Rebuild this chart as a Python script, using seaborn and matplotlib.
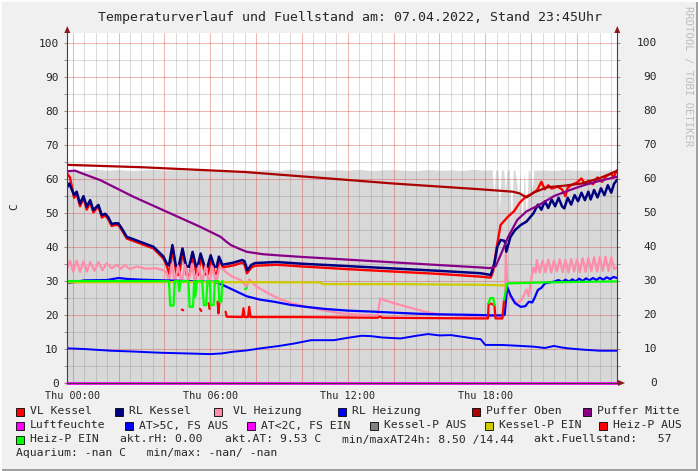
import numpy as np
import pandas as pd
import matplotlib
matplotlib.use("Agg")
import matplotlib.pyplot as plt
import matplotlib.transforms as mtransforms
from matplotlib.patches import Rectangle, Polygon
import seaborn as sns

# ---------------- data (hours of Thu 07.04.2022, values in C) ----------------
title = "Temperaturverlauf und Fuellstand am: 07.04.2022, Stand 23:45Uhr"
y_label = "C"
xtick_pos = [0, 6, 12, 18]
xtick_labels = ["Thu 00:00", "Thu 06:00", "Thu 12:00", "Thu 18:00"]
ytick_vals = [0, 10, 20, 30, 40, 50, 60, 70, 80, 90, 100]

rlk_t = [-0.25, -0.15, 0.06, 0.17, 0.32, 0.47, 0.61, 0.76, 0.90, 1.12, 1.27, 1.42, 1.55, 1.70, 1.85, 1.99,
         2.14, 2.36, 2.65, 3.0, 3.52, 3.96, 4.1, 4.2, 4.35, 4.5, 4.62, 4.79, 4.95, 5.08, 5.23, 5.38, 5.45,
         5.58, 5.75, 5.88, 6.02, 6.18, 6.28, 6.38, 6.53, 7.0, 7.4, 7.5, 7.62, 7.8, 7.96, 8.9, 10.0, 12.0,
         14.0, 16.0, 17.8, 18.24, 18.4, 18.53, 18.67, 18.85, 18.92, 19.1, 19.3, 19.55, 19.8, 20.1, 20.3,
         20.45, 20.6, 20.75, 20.9, 21.05, 21.2, 21.35, 21.45, 21.6, 21.75, 21.9, 22.05, 22.2, 22.35, 22.5,
         22.6, 22.75, 22.9, 23.05, 23.2, 23.35, 23.5, 23.62, 23.75]
rlk_v = [57.5, 58.7, 55.3, 56.3, 52.8, 55.0, 51.9, 53.8, 50.9, 52.4, 49.4, 49.8, 48.8, 46.8, 47.0, 47.0,
         45.5, 43.0, 42.3, 41.4, 40.1, 37.2, 35.2, 34.6, 40.6, 34.5, 34.3, 39.6, 34.4, 34.2, 38.6, 34.3, 34.2,
         38.1, 34.3, 34.2, 37.6, 34.2, 34.2, 37.2, 34.8, 35.4, 36.2, 35.8, 33.2, 34.8, 35.3, 35.6, 35.1, 34.4,
         33.7, 33.0, 32.3, 31.8, 35.2, 40.1, 42.1, 41.8, 38.6, 43.0, 45.0, 46.5, 47.5, 49.9, 52.5,
         51.0, 53.5, 51.5, 54.0, 52.0, 54.5, 52.0, 51.4, 54.5, 52.5, 55.3, 53.5, 56.0, 53.8, 56.3,
         54.0, 56.8, 54.6, 57.3, 55.3, 58.2, 56.0, 58.6, 59.8]

vlk_t = [-0.25, -0.12, 0.06, 0.17, 0.32, 0.47, 0.61, 0.76, 0.90, 1.12, 1.27, 1.42, 1.55, 1.70, 1.85, 1.99,
         2.14, 2.36, 2.65, 3.0, 3.52, 3.96, 4.1, 4.22, 4.37, 4.52, 4.64, 4.81, 4.97, 5.1, 5.25, 5.4, 5.47,
         5.6, 5.77, 5.9, 6.04, 6.2, 6.3, 6.4, 6.55, 7.0, 7.4, 7.5, 7.6, 7.8, 7.96, 8.9, 10.0, 12.0, 14.0,
         16.0, 17.8, 18.24, 18.35, 18.5, 18.67, 18.8, 19.0, 19.25, 19.5, 19.76, 20.0, 20.27, 20.45, 20.6,
         20.75, 20.9, 21.15, 21.35, 21.5, 21.6, 21.8, 22.0, 22.2, 22.35, 22.5, 22.7, 22.9, 23.1, 23.3,
         23.5, 23.6, 23.75]
vlk_v = [61.7, 60.5, 54.5, 55.8, 52.0, 54.5, 51.0, 53.2, 50.2, 52.0, 48.7, 49.3, 48.2, 46.2, 46.5, 46.5,
         45.0, 42.5, 41.8, 40.9, 39.6, 36.6, 34.5, 32.0, 39.8, 32.0, 31.8, 38.8, 31.8, 31.8, 37.8, 32.0, 31.8,
         37.4, 32.0, 32.0, 36.8, 32.2, 32.2, 36.5, 34.0, 34.6, 35.4, 34.8, 32.3, 34.0, 34.5, 34.8, 34.3, 33.5,
         32.8, 32.1, 31.3, 31.0, 33.0, 40.0, 46.5, 47.5, 49.0, 50.5, 53.0, 54.8, 55.5, 56.8, 59.2, 57.0,
         58.2, 57.2, 57.8, 57.0, 55.0, 57.5, 58.4, 59.0, 60.2, 58.5, 59.5, 58.5, 60.5, 59.2, 61.0,
         61.6, 60.5, 62.6]

po_t = [-0.25, 3.0, 7.5, 10.4, 14.0, 17.8, 19.2, 19.5, 19.8, 20.1, 20.7, 21.5, 22.2, 23.0, 23.75]
po_v = [64.2, 63.5, 62.1, 60.6, 58.7, 57.0, 56.3, 55.8, 54.6, 56.0, 57.6, 58.1, 58.7, 60.3, 62.4]

pm_t = [-0.25, 0.1, 0.4, 1.2, 2.65, 4.1, 5.55, 6.46, 6.7, 6.9, 7.3, 7.6, 8.3, 9.1, 10.0, 12.0, 14.0, 16.0,
        17.8, 18.2, 18.45, 18.7, 19.0, 19.4, 19.8, 20.3, 21.0, 21.7, 22.3, 23.0, 23.75]
pm_v = [62.3, 62.5, 61.7, 59.7, 54.8, 50.4, 46.0, 43.0, 41.6, 40.6, 39.4, 38.6, 37.9, 37.5, 37.1, 36.3, 35.5,
        34.7, 34.0, 33.8, 34.3, 38.1, 43.0, 48.0, 50.5, 52.2, 55.0, 56.8, 58.2, 59.5, 60.7]

vh_t = [-0.25, -0.12, 0.02, 0.17, 0.32, 0.47, 0.62, 0.76, 0.95, 1.12, 1.3, 1.48, 1.7, 1.92, 2.1, 2.28, 2.5,
        2.8, 3.2, 3.6, 3.95, 4.1, 4.2, 4.32, 4.45, 4.6, 4.75, 4.9, 5.05, 5.2, 5.35, 5.5, 5.65, 5.8, 5.95,
        6.1, 6.25, 6.4, 6.55, 6.75, 7.0, 7.33, 7.5, 7.58, 7.7, 8.0, 8.5, 9.0, 9.5, 10.2, 11.0, 11.7, 12.5,
        13.3, 13.42, 13.6, 14.0, 14.6, 15.3, 16.0, 17.0, 17.8, 18.85, 18.9, 18.97, 19.1, 19.4, 19.6, 19.8,
        19.9, 20.0, 20.1, 20.2, 20.25, 20.38, 20.5, 20.63, 20.75, 20.88, 21.0, 21.13, 21.25, 21.38, 21.5,
        21.63, 21.75, 21.88, 22.0, 22.13, 22.25, 22.38, 22.5, 22.63, 22.75, 22.88, 23.0, 23.13, 23.25,
        23.38, 23.5, 23.63, 23.75]
vh_v = [33.5, 36.0, 32.8, 36.0, 32.7, 35.8, 32.8, 35.6, 33.0, 35.6, 33.2, 35.3, 33.8, 34.8, 33.6, 34.7, 33.5,
        34.3, 33.6, 33.8, 33.2, 32.5, 30.0, 35.0, 29.5, 34.5, 29.5, 34.8, 29.8, 35.0, 29.2, 34.5, 29.5, 34.6,
        29.0, 34.3, 29.5, 34.0, 33.5, 32.3, 31.2, 30.3, 29.0, 28.3, 30.5, 28.5, 26.5, 24.8, 23.6, 22.4, 21.3,
        20.5, 20.1, 19.9, 24.9, 24.4, 23.5, 22.4, 21.1, 20.2, 19.8, 19.6, 19.8, 38.0, 27.0, 25.0, 23.5, 24.5,
        27.5, 25.5, 30.3, 34.0, 32.5, 36.2, 32.5, 36.0, 32.6, 36.3, 32.5, 36.0, 32.8, 36.4, 32.6, 36.2, 32.5,
        36.5, 32.8, 36.4, 32.6, 36.7, 32.7, 36.8, 32.9, 37.0, 32.8, 37.1, 33.0, 37.2, 33.0, 37.0, 33.5, 34.0]

rh_t = [-0.25, 0.0, 0.5, 1.5, 2.0, 2.4, 3.0, 4.0, 5.0, 5.8, 6.2, 6.5, 7.0, 7.6, 8.2, 8.8, 9.5, 10.2, 11.0,
        12.0, 13.1, 14.0, 15.0, 16.0, 17.0, 17.8, 18.2, 18.7, 18.85, 18.96, 19.1, 19.3, 19.55, 19.75, 19.9,
        20.05, 20.15, 20.3, 20.45, 20.6, 20.8, 21.0, 21.2, 21.35, 21.5, 21.65, 21.8, 21.95, 22.1, 22.25,
        22.4, 22.55, 22.7, 22.85, 23.0, 23.15, 23.3, 23.45, 23.6, 23.75]
rh_v = [29.4, 29.6, 30.2, 30.3, 30.9, 30.6, 30.4, 30.2, 30.0, 29.8, 29.8, 29.0, 27.4, 25.5, 24.5, 23.9, 23.0,
        22.4, 21.8, 21.3, 21.0, 20.7, 20.4, 20.2, 20.1, 20.0, 19.9, 19.9, 20.1, 28.3, 25.9, 23.5, 22.4, 22.6,
        23.9, 23.7, 25.0, 27.4, 28.0, 29.3, 29.6, 29.8, 30.3, 29.7, 30.4, 29.8, 30.5, 29.9, 30.7, 30.0,
        30.8, 30.2, 30.9, 30.3, 31.0, 30.4, 31.1, 30.6, 31.2, 30.9]

lf_t = [-0.25, 23.75]
lf_v = [0.0, 0.0]

at_t = [-0.25, 0.5, 1.66, 2.5, 3.84, 5.0, 6.0, 6.5, 7.0, 7.6, 8.2, 9.0, 9.65, 10.4, 11.4, 12.0, 12.6, 13.0,
        13.5, 14.3, 15.0, 15.5, 16.0, 16.5, 17.0, 17.5, 17.8, 18.0, 18.7, 19.3, 20.1, 20.6, 21.0, 21.3,
        21.6, 22.3, 23.0, 23.75]
at_v = [10.2, 10.0, 9.5, 9.3, 8.9, 8.7, 8.5, 8.7, 9.2, 9.6, 10.2, 10.9, 11.6, 12.6, 12.6, 13.3, 13.9, 13.8,
        13.4, 13.1, 13.9, 14.4, 14.0, 14.1, 13.6, 13.1, 12.9, 11.2, 11.2, 11.0, 10.7, 10.3, 10.9, 10.5,
        10.2, 9.8, 9.5, 9.5]

ks_t = [-0.25, 0.5, 1.0, 1.5, 2.0, 2.5, 3.0, 3.5, 4.0, 4.5, 5.0, 5.5, 6.0, 6.5, 7.0, 7.5, 8.0, 8.5, 9.0,
        9.5, 10.0, 10.5, 11.0, 11.5, 12.0, 12.5, 13.0, 13.5, 14.0, 14.5, 15.0, 15.5, 16.0, 16.5, 17.0,
        17.5, 18.0, 18.3, 18.38, 18.45, 18.55, 18.62, 18.7, 18.8, 18.88, 18.95, 19.05, 19.15, 19.22,
        19.3, 19.45, 19.52, 19.6, 19.7, 19.8, 19.88, 19.95, 20.05, 20.12, 20.5, 21.0, 21.5, 22.0, 22.5,
        23.0, 23.5, 23.75]
ks_v = [62.8, 62.5, 62.9, 62.6, 62.8, 62.5, 62.7, 62.9, 62.6, 62.8, 62.5, 62.7, 62.6, 62.9, 62.5, 62.7,
        62.6, 62.8, 62.5, 62.9, 62.6, 62.7, 62.5, 62.8, 62.6, 62.9, 62.5, 62.7, 62.8, 62.6, 62.5, 62.8,
        62.6, 62.7, 62.5, 62.9, 62.6, 62.8, 55.0, 62.5, 62.7, 51.0, 62.5, 62.8, 56.5, 62.6, 62.7, 47.0,
        62.5, 62.6, 55.0, 62.4, 46.0, 62.5, 48.0, 62.6, 62.5, 57.0, 62.6, 62.7, 62.5, 62.8, 62.6, 62.7,
        62.5, 62.8, 62.7]

kpe_t = [-0.25, 5.0, 10.8, 10.9, 14.0, 17.8, 18.95]
kpe_v = [29.6, 29.7, 29.6, 29.1, 29.1, 28.9, 28.7]

hpa1_t = [4.76, 4.82]; hpa1_v = [21.6, 21.4]
hpa2_t = [5.55, 5.61]; hpa2_v = [21.8, 21.2]
hpa3_t = [5.93, 5.97]; hpa3_v = [23.5, 21.8]
hpa4_t = [6.32, 6.36, 6.4]; hpa4_v = [23.9, 20.5, 23.9]
hpa5_t = [6.67, 6.72, 7.4, 7.45, 7.5, 7.65, 7.7, 7.76, 10.0, 13.3, 13.4, 13.5, 17.8, 18.12, 18.15, 18.4,
          18.45, 18.75, 18.82]
hpa5_v = [21.0, 19.5, 19.4, 22.0, 19.4, 19.4, 22.4, 19.4, 19.4, 19.2, 19.6, 19.2, 19.0, 19.0, 23.5, 23.0,
          19.0, 19.0, 24.4]

hpe1_t = [-0.25, 4.2, 4.25, 4.4, 4.45, 4.6, 4.65, 4.7, 5.05, 5.1, 5.25, 5.3, 5.35, 5.42, 5.65, 5.72, 5.82,
          5.88, 5.98, 6.02, 6.15, 6.2, 6.35, 6.4, 6.48, 6.53]
hpe1_v = [30.0, 30.0, 22.8, 22.8, 30.0, 30.0, 27.0, 30.0, 30.0, 22.4, 22.4, 30.0, 25.4, 30.0, 30.0, 22.9,
          22.9, 30.0, 30.0, 22.9, 22.9, 30.0, 30.0, 23.9, 23.9, 30.0]
hpe2_t = [7.52, 7.6]; hpe2_v = [27.6, 28.0]
hpe3_t = [18.15, 18.22, 18.35, 18.4]; hpe3_v = [23.5, 25.0, 25.0, 23.0]
hpe4_t = [18.82, 18.96, 19.5, 20.5, 21.5, 22.5, 23.75]
hpe4_v = [24.4, 29.3, 29.4, 29.6, 29.7, 29.8, 29.9]

legend_labels = ["VL Kessel", "RL Kessel", "VL Heizung", "RL Heizung", "Puffer Oben", "Puffer Mitte",
                 "Luftfeuchte", "AT>5C, FS AUS", "AT<2C, FS EIN", "Kessel-P AUS", "Kessel-P EIN",
                 "Heiz-P AUS", "Heiz-P EIN"]
legend_colors = ["#FF0000", "#000080", "#FF8CAA", "#0000FF", "#AA0000", "#880088",
                 "#FF00FF", "#0000FF", "#FF00FF", "#808080", "#CCCC00", "#FF0000", "#00FF00"]
stat_texts = ["akt.rH: 0.00", "akt.AT: 9.53 C", "min/maxAT24h: 8.50 /14.44", "akt.Fuellstand:   57"]
aquarium_text = "Aquarium: -nan C   min/max: -nan/ -nan"
watermark = "RRDTOOL / TOBI OETIKER"

# ---------------- figure ----------------
sns.set_style("white")
plt.rcParams['font.family'] = ['DejaVu Sans Mono', 'DejaVu Sans']

W, H = 698, 471
fig = plt.figure(figsize=(W / 100, H / 100), dpi=100, facecolor='#F0F0F0')
ax = fig.add_axes([67 / W, 1 - 383 / H, 550 / W, 350 / H])
ax.set_facecolor('white')
ax.set_xlim(-0.25, 23.75)
ax.set_ylim(0, 103)

# grid
minor_c = (0.5, 0.5, 0.5, 0.28)
major_c = (0.85, 0.2, 0.2, 0.35)
for h in np.arange(0, 23.75, 0.5):
    is_major = abs(h / 2 - round(h / 2)) < 1e-9
    ax.axvline(h, color=major_c if is_major else minor_c, lw=0.75, zorder=1.5)
for v in range(5, 101, 5):
    ax.axhline(v, color=major_c if v % 10 == 0 else minor_c, lw=0.75, zorder=1.5)

# gray area
ax.fill_between(ks_t, 0, ks_v, color='#D8D8D8', lw=0, zorder=1)


def draw(t, v, color, lw=1.6, z=3, clip=True):
    df = pd.DataFrame({'t': t, 'v': v})
    sns.lineplot(data=df, x='t', y='v', color=color, lw=lw, ax=ax, zorder=z,
                 estimator=None, sort=False, clip_on=clip)


draw(vlk_t, vlk_v, "#FF0000", lw=1.7)
draw(rlk_t, rlk_v, "#000080", lw=1.8)
draw(vh_t, vh_v, "#FF8CAA", lw=1.6)
draw(rh_t, rh_v, "#0000FF", lw=1.6)
draw(po_t, po_v, "#AA0000", lw=1.6)
draw(pm_t, pm_v, "#880088", lw=1.6)
draw(lf_t, lf_v, "#FF00FF", lw=2.0, z=4, clip=False)
draw(at_t, at_v, "#0000FF", lw=1.4)
draw(kpe_t, kpe_v, "#CCCC00", lw=1.6)
for tt, vv in [(hpa1_t, hpa1_v), (hpa2_t, hpa2_v), (hpa3_t, hpa3_v), (hpa4_t, hpa4_v), (hpa5_t, hpa5_v)]:
    draw(tt, vv, "#FF0000", lw=1.6)
for tt, vv in [(hpe1_t, hpe1_v), (hpe2_t, hpe2_v), (hpe3_t, hpe3_v), (hpe4_t, hpe4_v)]:
    draw(tt, vv, "#00FF00", lw=1.6)

ax.set_xlabel("")
ax.set_ylabel("")

# ticks
ax.set_xticks(xtick_pos)
ax.set_xticklabels(xtick_labels, fontsize=7.3)
ax.set_xticks(np.arange(0, 23.75, 0.5), minor=True)
ax.set_yticks(ytick_vals)
ax.set_yticklabels([str(v) for v in ytick_vals], fontsize=8)
ax.set_yticks(np.arange(5, 101, 10), minor=True)
ax.tick_params(axis='x', which='major', length=3, width=0.7, color='#606060', pad=2.5)
ax.tick_params(axis='x', which='minor', length=2, width=0.6, color='#909090')
ax.tick_params(axis='y', which='both', left=True, right=True, length=2.5, width=0.6,
               color='#808080', pad=3.5, labelright=False)
trans = mtransforms.blended_transform_factory(ax.transAxes, ax.transData)
for v in ytick_vals:
    ax.text(1 + 40 / 550, v, str(v), transform=trans, ha='right', va='center', fontsize=8)

for s in ['top']:
    ax.spines[s].set_visible(False)
for s in ['left', 'right', 'bottom']:
    ax.spines[s].set_color('#404040')
    ax.spines[s].set_linewidth(0.8)
    ax.spines[s].set_zorder(5)


def px(x, y):
    return (x / W, 1 - y / H)


arrow_c = '#8B1A1A'
for xa in (67.3, 617.3):
    fig.add_artist(Polygon([px(xa - 3, 33), px(xa + 3, 33), px(xa, 26)], closed=True,
                           transform=fig.transFigure, color=arrow_c, lw=0))
fig.add_artist(Polygon([px(618, 380), px(618, 386), px(625, 383)], closed=True,
                       transform=fig.transFigure, color=arrow_c, lw=0))

# texts
fig.text(350 / W, 1 - 17 / H, title, ha='center', va='center', fontsize=9.5)
fig.text(14 / W, 1 - 207 / H, y_label, rotation=90, ha='center', va='center', fontsize=8)
fig.text(688 / W, 1 - 6 / H, watermark, rotation=-90, ha='center', va='top', fontsize=7.6,
         color='#BDBDBD')

# legend
rows = [411.5, 425.5, 439.5, 453.5]
positions = [(16, 0), (115, 0), (214, 0), (338, 0), (472, 0), (583, 0),
             (16, 1), (125, 1), (247, 1), (370, 1), (485, 1), (599, 1), (16, 2)]
for lab, col, (sx, r) in zip(legend_labels, legend_colors, positions):
    yc = rows[r]
    fig.add_artist(Rectangle((sx / W, 1 - (yc + 4) / H), 8 / W, 8 / H, transform=fig.transFigure,
                             facecolor=col, edgecolor='black', lw=0.6))
    tx = sx + 14 if sx != 214 else sx + 19
    fig.text(tx / W, 1 - yc / H, lab, ha='left', va='center', fontsize=8.2)
for txt, sx in zip(stat_texts, [120, 225, 342, 534]):
    fig.text(sx / W, 1 - rows[2] / H, txt, ha='left', va='center', fontsize=8.2)
fig.text(16 / W, 1 - rows[3] / H, aquarium_text, ha='left', va='center', fontsize=8.2)

# frame
fig.add_artist(Rectangle((0, 0), 1, 2 / H, transform=fig.transFigure, color='#A0A0A0', lw=0))
fig.add_artist(Rectangle((1 - 2 / W, 0), 2 / W, 1, transform=fig.transFigure, color='#A0A0A0', lw=0))
fig.add_artist(Rectangle((0, 1 - 2 / H), 1, 2 / H, transform=fig.transFigure, color='#FCFCFC', lw=0))
fig.add_artist(Rectangle((0, 0), 2 / W, 1, transform=fig.transFigure, color='#FCFCFC', lw=0))

fig.savefig("out.png", dpi=100, facecolor=fig.get_facecolor())
